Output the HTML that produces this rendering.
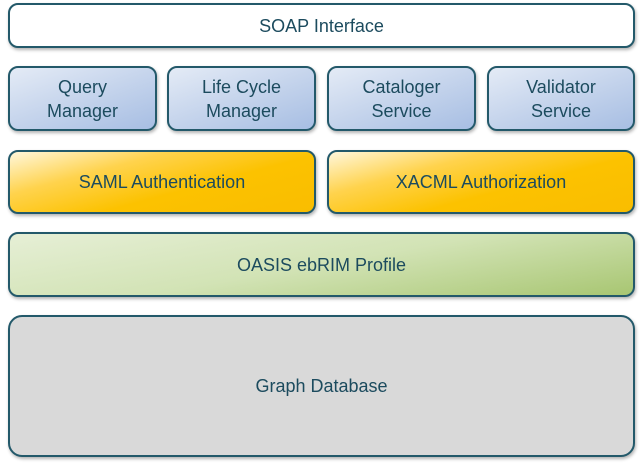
<!DOCTYPE html>
<html><head><style>
body{margin:0;width:640px;height:465px;background:#fff;position:relative;overflow:hidden;font-family:"Liberation Sans",sans-serif}
.b{position:absolute;box-sizing:border-box;border:2px solid #23596a;border-radius:10px;display:flex;align-items:center;justify-content:center;text-align:center;color:#1c4b5e;font-size:18px;line-height:24px;box-shadow:1px 2px 3px rgba(0,0,0,0.3)}
.s{background:linear-gradient(160deg,#e4ebf6 0%,#c5d4ec 50%,#a7bee3 100%)}
.y{background:linear-gradient(165deg,#fff7dc 0%,#ffd34d 30%,#fcc200 60%,#f9bd00 100%)}
.g{background:linear-gradient(170deg,#e6efd6 0%,#d2e3b5 50%,#a8c672 100%)}
</style></head><body>
<div class="b" style="left:8px;top:3px;width:627px;height:45px;background:#fff">SOAP Interface</div>
<div class="b s" style="left:8px;top:66px;width:149px;height:65px">Query<br>Manager</div>
<div class="b s" style="left:167px;top:66px;width:149px;height:65px">Life Cycle<br>Manager</div>
<div class="b s" style="left:327px;top:66px;width:149px;height:65px">Cataloger<br>Service</div>
<div class="b s" style="left:487px;top:66px;width:148px;height:65px">Validator<br>Service</div>
<div class="b y" style="left:8px;top:150px;width:308px;height:64px">SAML Authentication</div>
<div class="b y" style="left:327px;top:150px;width:308px;height:64px">XACML Authorization</div>
<div class="b g" style="left:8px;top:232px;width:627px;height:65px">OASIS ebRIM Profile</div>
<div class="b" style="left:8px;top:315px;width:627px;height:142px;background:#d9d9d9;border-radius:14px">Graph Database</div>
</body></html>
